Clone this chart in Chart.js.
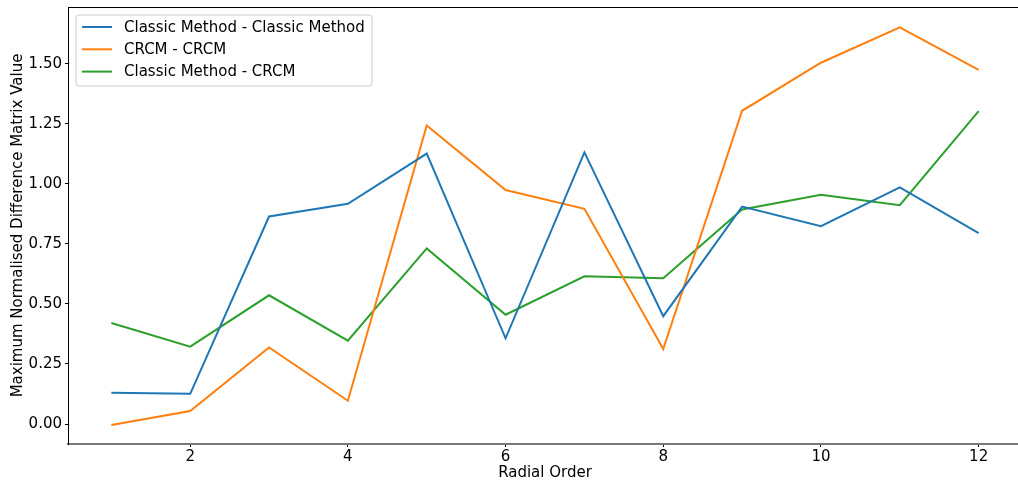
<!DOCTYPE html>
<html>
<head>
<meta charset="utf-8">
<script src="https://cdn.jsdelivr.net/npm/chart.js@4/dist/chart.umd.min.js"></script>
<style>
html,body{margin:0;padding:0;background:#fff;overflow:hidden;}
#wrap{width:1018px;height:484px;overflow:hidden;position:relative;}
canvas{display:block;}
</style>
</head>
<body>
<div id="wrap"><canvas id="c" width="1024" height="484"></canvas></div>
<script>
const radialOrders = [1,2,3,4,5,6,7,8,9,10,11,12];
const classicClassic = [0.130,0.126,0.864,0.917,1.126,0.357,1.131,0.449,0.905,0.824,0.985,0.795];
const crcmCrcm = [-0.004,0.054,0.319,0.097,1.243,0.974,0.896,0.312,1.304,1.504,1.651,1.474];
const classicCrcm = [0.421,0.322,0.536,0.347,0.731,0.455,0.615,0.607,0.893,0.954,0.911,1.303];
const seriesLabels = ['Classic Method - Classic Method','CRCM - CRCM','Classic Method - CRCM'];
const seriesColors = ['#1f77b4','#ff7f0e','#2ca02c'];
const xTicks = [2,4,6,8,10,12];
const yTicks = [0,0.25,0.5,0.75,1.0,1.25,1.5];

const FONT = 'DejaVu Sans';
const FS = 15;
Chart.defaults.color = '#000';
Chart.defaults.font.family = FONT;
Chart.defaults.font.size = FS;

function pts(vals){ return radialOrders.map((x,i)=>({x:x,y:vals[i]})); }

const seriesValues = [classicClassic, crcmCrcm, classicCrcm];
const datasets = seriesValues.map((v,i)=>({
  label: seriesLabels[i],
  data: pts(v),
  borderColor: seriesColors[i],
  backgroundColor: seriesColors[i],
  borderWidth: 2,
  pointRadius: 0,
  fill: false,
  tension: 0
}));

const framePlugin = {
  id: 'frame',
  afterDraw(chart){
    const {ctx, chartArea:a} = chart;
    ctx.save();
    ctx.strokeStyle = '#000';
    ctx.lineWidth = 1;
    ctx.beginPath();
    ctx.moveTo(a.left, a.top+0.5);
    ctx.lineTo(a.right, a.top+0.5);
    ctx.stroke();
    // legend
    const lx = a.left + 8, ly = a.top + 8, lw = 296, lh = 71;
    ctx.beginPath();
    const r = 3;
    ctx.moveTo(lx+r, ly);
    ctx.lineTo(lx+lw-r, ly); ctx.quadraticCurveTo(lx+lw, ly, lx+lw, ly+r);
    ctx.lineTo(lx+lw, ly+lh-r); ctx.quadraticCurveTo(lx+lw, ly+lh, lx+lw-r, ly+lh);
    ctx.lineTo(lx+r, ly+lh); ctx.quadraticCurveTo(lx, ly+lh, lx, ly+lh-r);
    ctx.lineTo(lx, ly+r); ctx.quadraticCurveTo(lx, ly, lx+r, ly);
    ctx.closePath();
    ctx.fillStyle = 'rgba(255,255,255,0.8)';
    ctx.fill();
    ctx.strokeStyle = '#cccccc';
    ctx.lineWidth = 1;
    ctx.stroke();
    ctx.font = FS + 'px "' + FONT + '"';
    ctx.textBaseline = 'middle';
    ctx.textAlign = 'left';
    chart.data.datasets.forEach((ds,i)=>{
      const y = ly + 12 + i*22.3;
      ctx.strokeStyle = ds.borderColor;
      ctx.lineWidth = 2;
      ctx.beginPath();
      ctx.moveTo(lx+6, y);
      ctx.lineTo(lx+36, y);
      ctx.stroke();
      ctx.fillStyle = '#000';
      ctx.fillText(ds.label, lx+48, y+1);
    });
    ctx.restore();
  }
};

new Chart(document.getElementById('c'), {
  type: 'line',
  data: { datasets: datasets },
  options: {
    responsive: false,
    animation: false,
    devicePixelRatio: 1,
    layout: { padding: { top: 0, right: 2, left: 0, bottom: 0 } },
    plugins: { legend: { display: false }, tooltip: { enabled: false } },
    scales: {
      x: {
        type: 'linear',
        min: 0.45, max: 12.55,
        afterFit(s){ s.height = 40; s.paddingLeft = 0; s.paddingRight = 0; },
        afterBuildTicks(s){ s.ticks = xTicks.map(v=>({value:v})); },
        ticks: { padding: 1, maxRotation: 0, callback: v => String(v) },
        grid: { display: true, drawOnChartArea: false, drawTicks: true, tickLength: 3, color: '#000', tickWidth: 1 },
        border: { display: true, color: '#777', width: 2 },
        title: { display: true, text: 'Radial Order', font: { size: FS, family: FONT }, padding: { top: 0, bottom: 2 } }
      },
      y: {
        type: 'linear',
        min: -0.083, max: 1.736,
        afterFit(s){ s.width = 68; s.paddingTop = 7; s.paddingBottom = 0; },
        afterBuildTicks(s){ s.ticks = yTicks.map(v=>({value:v})); },
        ticks: { padding: 3, callback: v => Number(v).toFixed(2) },
        grid: { display: true, drawOnChartArea: false, drawTicks: true, tickLength: 3, color: '#000', tickWidth: 1 },
        border: { display: true, color: '#000', width: 1 },
        title: { display: true, text: 'Maximum Normalised Difference Matrix Value', font: { size: FS, family: FONT }, padding: { top: 9, bottom: 0 } }
      }
    }
  },
  plugins: [framePlugin]
});
</script>
</body>
</html>
